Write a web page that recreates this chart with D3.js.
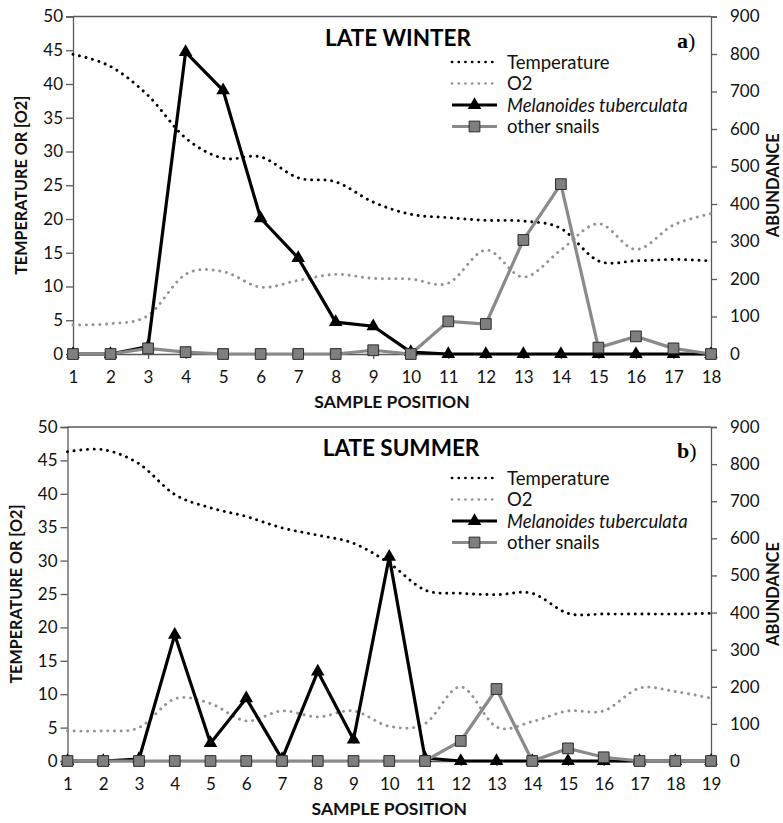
<!DOCTYPE html>
<html>
<head>
<meta charset="utf-8">
<script src="https://cdn.jsdelivr.net/npm/d3@7"></script>
<style>
  html, body { margin: 0; padding: 0; background: #fff; }
  svg { display: block; }
  text { font-family: Lato, "Open Sans", sans-serif; }
</style>
</head>
<body>
<svg id="chart" width="783" height="823"></svg>
<script>
// ---- data ----
const winterPositions = [1,2,3,4,5,6,7,8,9,10,11,12,13,14,15,16,17,18];
const winterTemperature = [44.4, 42.6, 38.3, 32.0, 29.0, 29.2, 26.1, 25.5, 22.5, 20.7, 20.2, 19.8, 19.7, 18.6, 13.8, 13.8, 14.0, 13.8];
const winterO2 = [4.3, 4.5, 5.7, 11.8, 12.2, 9.9, 10.9, 11.8, 11.2, 11.1, 10.5, 15.4, 11.4, 15.4, 19.3, 15.5, 19.1, 20.8];
const winterMelanoides = [0, 0, 20, 805, 703, 362, 256, 85, 74, 5, 0, 0, 0, 0, 0, 0, 0, 0];
const winterOtherSnails = [0, 0, 15, 5, 0, 0, 0, 0, 10, 0, 87, 80, 304, 453, 17, 47, 15, 0];

const summerPositions = [1,2,3,4,5,6,7,8,9,10,11,12,13,14,15,16,17,18,19];
const summerTemperature = [46.3, 46.6, 44.5, 39.9, 37.9, 36.6, 34.9, 33.8, 32.6, 29.6, 25.6, 25.1, 24.9, 25.1, 22.1, 22.0, 22.0, 22.0, 22.1];
const summerO2 = [4.5, 4.5, 5.0, 9.3, 8.6, 6.0, 7.5, 6.6, 7.5, 5.2, 5.6, 11.1, 5.1, 5.9, 7.5, 7.5, 10.9, 10.4, 9.4];
const summerMelanoides = [0, 0, 5, 340, 48, 169, 5, 241, 58, 550, 8, 0, 0, 0, 0, 0, 0, 0, 0];
const summerOtherSnails = [0, 0, 0, 0, 0, 0, 0, 0, 0, 0, 0, 54, 194, 0, 34, 10, 0, 0, 0];

const leftTicks = [0, 5, 10, 15, 20, 25, 30, 35, 40, 45, 50];
const rightTicks = [0, 100, 200, 300, 400, 500, 600, 700, 800, 900];
const legendLabels = ["Temperature", "O2", "Melanoides tuberculata", "other snails"];

// ---- drawing ----
const svg = d3.select("#chart");
const AXIS = "#595959";
const DOT_BLACK = "#000";
const DOT_GREY = "#939393";
const SNAIL_GREY = "#8a8a8a";
const TICK_FS = 17;

function styleAxis(a) {
  a.select(".domain").attr("stroke", AXIS).attr("stroke-width", 1.3);
  a.selectAll(".tick line").attr("stroke", AXIS).attr("stroke-width", 1.3);
  a.selectAll(".tick text").attr("font-size", TICK_FS).attr("fill", "#111").attr("font-family", "Lato, sans-serif");
}

function drawPanel(p) {
  const g = svg.append("g");
  const x = d3.scaleLinear().domain([p.positions[0], p.positions[p.positions.length - 1]]).range([p.left, p.right]);
  const yL = d3.scaleLinear().domain([0, 50]).range([p.bottom, p.top]);
  const yR = d3.scaleLinear().domain([0, 900]).range([p.bottom, p.top]);

  // top border
  g.append("line").attr("x1", p.left).attr("x2", p.right).attr("y1", p.top).attr("y2", p.top)
    .attr("stroke", AXIS).attr("stroke-width", 1.3);

  styleAxis(g.append("g").attr("transform", `translate(${p.left},0)`)
    .call(d3.axisLeft(yL).tickValues(leftTicks).tickSize(7).tickPadding(3).tickFormat(d3.format("d"))));
  styleAxis(g.append("g").attr("transform", `translate(${p.right},0)`)
    .call(d3.axisRight(yR).tickValues(rightTicks).tickSize(6).tickPadding(13).tickFormat(d3.format("d"))));
  styleAxis(g.append("g").attr("transform", `translate(0,${p.bottom})`)
    .call(d3.axisBottom(x).tickValues(p.positions).tickSize(5).tickPadding(12).tickFormat(d3.format("d"))));

  // axis titles
  g.append("text").attr("x", (p.left + p.right) / 2).attr("y", p.bottom + 54)
    .attr("text-anchor", "middle").attr("font-size", 17.5).attr("font-weight", "bold").attr("fill", "#111")
    .text("SAMPLE POSITION");
  g.append("text").attr("transform", `translate(${p.leftTitleX},${(p.top + p.bottom) / 2}) rotate(-90)`)
    .attr("text-anchor", "middle").attr("font-size", 16.2).attr("font-weight", "bold").attr("fill", "#111")
    .text("TEMPERATURE OR [O2]");
  g.append("text").attr("transform", `translate(779,${(p.top + p.bottom) / 2}) rotate(-90)`)
    .attr("text-anchor", "middle").attr("font-size", 16.5).attr("font-weight", "bold").attr("fill", "#111")
    .text("ABUNDANCE");

  // panel title & letter
  g.append("text").attr("x", p.titleX).attr("y", p.top + 29)
    .attr("text-anchor", "middle").attr("font-size", 22.5).attr("font-weight", "bold").attr("fill", "#000")
    .text(p.title);
  const lt = g.append("text").attr("x", 677).attr("y", p.top + 31)
    .attr("font-family", "'Liberation Serif', 'DejaVu Serif', serif").attr("font-size", 22).attr("fill", "#000");
  lt.append("tspan").attr("font-weight", "bold").attr("font-family", "'Liberation Serif', serif").text(p.letter);
  lt.append("tspan").attr("font-family", "'Liberation Serif', serif").text(")");

  const curve = d3.curveCatmullRom.alpha(0);
  const idx = p.positions.map((_, i) => i);

  const lineL = (arr) => d3.line().x(i => x(p.positions[i])).y(i => yL(arr[i])).curve(curve)(idx);
  const lineR = (arr) => d3.line().x(i => x(p.positions[i])).y(i => yR(arr[i]))(idx);

  // temperature (dotted black)
  g.append("path").attr("d", lineL(p.temperature)).attr("fill", "none")
    .attr("stroke", DOT_BLACK).attr("stroke-width", 2.9).attr("stroke-linecap", "round")
    .attr("stroke-dasharray", "0.1 6.6");
  // O2 (dotted grey)
  g.append("path").attr("d", lineL(p.o2)).attr("fill", "none")
    .attr("stroke", DOT_GREY).attr("stroke-width", 2.9).attr("stroke-linecap", "round")
    .attr("stroke-dasharray", "0.1 6.6");

  // Melanoides
  g.append("path").attr("d", lineR(p.melanoides)).attr("fill", "none")
    .attr("stroke", "#000").attr("stroke-width", 3.2).attr("stroke-linejoin", "miter");
  g.selectAll(null).data(idx).enter().append("path")
    .attr("transform", i => `translate(${x(p.positions[i])},${yR(p.melanoides[i])})`)
    .attr("d", d3.symbol(d3.symbolTriangle, 80)).attr("fill", "#000");

  // other snails
  g.append("path").attr("d", lineR(p.other)).attr("fill", "none")
    .attr("stroke", SNAIL_GREY).attr("stroke-width", 3.2);
  g.selectAll(null).data(idx).enter().append("path")
    .attr("transform", i => `translate(${x(p.positions[i])},${yR(p.other[i])})`)
    .attr("d", d3.symbol(d3.symbolSquare, 115)).attr("fill", "#7f7f7f")
    .attr("stroke", "#2b2b2b").attr("stroke-width", 1);

  // legend
  const lx0 = 452, lx1 = 497, tx = 507;
  legendLabels.forEach((lab, k) => {
    const yy = p.legendY + k * 21.5;
    const row = g.append("g");
    if (k < 2) {
      row.append("line").attr("x1", lx0).attr("x2", lx1).attr("y1", yy).attr("y2", yy)
        .attr("stroke", k === 0 ? DOT_BLACK : DOT_GREY).attr("stroke-width", 2.7)
        .attr("stroke-linecap", "round").attr("stroke-dasharray", "0.1 6.6");
    } else {
      row.append("line").attr("x1", lx0).attr("x2", lx1).attr("y1", yy).attr("y2", yy)
        .attr("stroke", k === 2 ? "#000" : SNAIL_GREY).attr("stroke-width", 3.2);
      if (k === 2) {
        row.append("path").attr("transform", `translate(${(lx0 + lx1) / 2},${yy})`)
          .attr("d", d3.symbol(d3.symbolTriangle, 80)).attr("fill", "#000");
      } else {
        row.append("path").attr("transform", `translate(${(lx0 + lx1) / 2},${yy})`)
          .attr("d", d3.symbol(d3.symbolSquare, 115)).attr("fill", "#7f7f7f")
          .attr("stroke", "#2b2b2b").attr("stroke-width", 1);
      }
    }
    row.append("text").attr("x", tx).attr("y", yy).attr("dy", "0.36em")
      .attr("font-size", 18.5).attr("fill", "#111")
      .attr("font-style", k === 2 ? "italic" : "normal")
      .text(lab);
  });
}

drawPanel({
  positions: winterPositions, temperature: winterTemperature, o2: winterO2,
  melanoides: winterMelanoides, other: winterOtherSnails,
  left: 73, right: 711, top: 16.5, bottom: 354,
  leftTitleX: 27, title: "LATE WINTER", titleX: 398, letter: "a", legendY: 62
});
drawPanel({
  positions: summerPositions, temperature: summerTemperature, o2: summerO2,
  melanoides: summerMelanoides, other: summerOtherSnails,
  left: 67.5, right: 711, top: 427, bottom: 761,
  leftTitleX: 22, title: "LATE SUMMER", titleX: 401, letter: "b", legendY: 478
});
</script>
</body>
</html>
